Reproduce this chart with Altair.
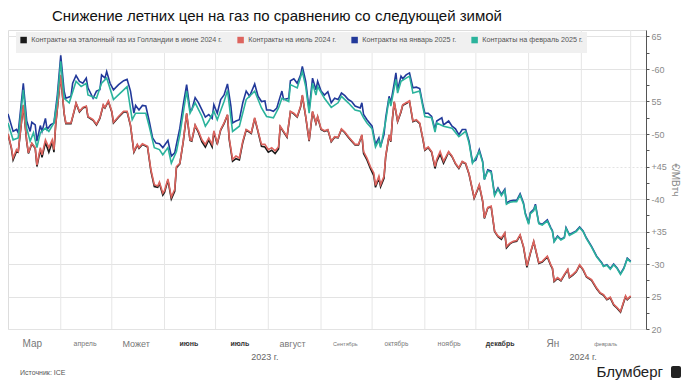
import altair as alt
import pandas as pd

TITLE = "Снижение летних цен на газ по сравнению со следующей зимой"
SERIES = [
    "Контракты на эталонный газ из Голландии в июне 2024 г.",
    "Контракты на июль 2024 г.",
    "Контракты на январь 2025 г.",
    "Контракты на февраль 2025 г.",
]
COLORS = ["#1a1a1a", "#dd645e", "#22399a", "#2bb39c"]
START = pd.Timestamp("2023-03-01")

# (days since 1 Mar 2023, EUR/MWh)
jul = [(0,50.0),(2,47.9),(3,46.3),(5,47.6),(6,47.3),(9,54.5),(11,48.9),(12,47.1),(14,48.6),(16,47.9),
       (17,45.2),(19,47.9),(20,46.8),(22,49.1),(24,47.9),(26,49.1),(27,47.6),(28,51.4),(31,59.1),(33,53.2),
       (34,51.7),(37,51.7),(39,53.7),(40,54.8),(42,53.5),(44,54.1),(46,54.3),(47,52.7),(50,52.2),(52,51.5),
       (54,52.5),(56,54.5),(57,54.1),(59,55.1),(61,53.5),(62,51.8),(65,52.7),(68,53.5),(70,53.5),(72,51.4),
       (74,47.3),(76,48.4),(77,47.9),(79,48.5),(82,48.1),(84,44.5),(86,42.2),(88,42.0),(89,42.6),(91,40.9),
       (92,41.3),(94,43.1),(96,40.3),(98,41.5),(99,45.0),(101,45.5),(103,48.9),(105,53.2),(107,49.1),(108,49.0),
       (110,51.4),(112,50.4),(114,49.1),(116,48.4),(118,49.4),(120,48.4),(121,50.5),(123,48.6),(125,50.7),(127,51.7),
       (129,53.0),(130,49.4),(132,46.1),(134,46.6),(136,46.3),(138,48.9),(140,50.7),(143,50.2),(145,52.5),(147,50.4),
       (149,48.4),(151,48.4),(153,47.6),(155,47.9),(157,47.4),(159,48.0),(160,51.2),(162,50.4),(164,49.6),(166,53.5),
       (168,53.2),(170,52.7),(172,54.3),(173,56.0),(175,52.7),(177,49.0),(179,53.5),(181,51.7),(182,52.7),(184,50.8),
       (186,50.5),(188,50.7),(190,48.9),(192,49.6),(194,49.5),(196,50.8),(198,50.3),(200,49.6),(202,49.0),(204,48.4),
       (206,48.4),(208,49.9),(209,47.3),(211,46.3),(213,45.0),(215,44.0),(216,42.1),(218,43.5),(219,42.2),(221,43.5),
       (222,46.6),(224,49.9),(225,48.9),(226,52.5),(227,55.0),(229,52.0),(231,53.5),(232,54.5),(234,54.8),(236,55.1),
       (238,52.0),(240,52.2),(242,51.7),(244,49.1),(245,47.6),(247,48.0),(249,47.3),(251,45.0),(252,46.1),(254,47.3),
       (256,45.8),(259,47.3),(261,46.6),(263,45.5),(265,44.8),(267,45.8),(269,45.5),(271,43.9),(274,40.2),(276,41.5),
       (277,42.2),(279,39.7),(280,37.1),(282,38.7),(284,38.9),(286,35.1),(288,34.3),(290,34.0),(292,34.8),(293,32.7),
       (295,33.2),(297,33.5),(299,33.6),(301,34.5),(303,32.7),(305,29.7),(307,31.7),(309,33.5),(312,30.2),(314,30.4),
       (317,31.2),(319,29.9),(320,29.4),(321,27.4),(323,27.9),(325,27.5),(327,28.4),(329,29.2),(330,28.0),(332,28.4),
       (334,28.9),(336,29.9),(338,29.2),(340,28.1),(343,27.6),(346,26.3),(348,25.6),(350,25.3),(352,24.6),(354,24.9),
       (356,23.8),(358,23.3),(360,22.7),(361,23.5),(363,25.1),(364,24.6),(366,25.1)]

jun = [(0,50.0),(2,47.8),(3,46.0),(5,47.3),(6,47.2),(9,54.4),(11,48.8),(12,47.0),(14,48.5),(16,47.8),
       (17,45.0),(19,47.6),(20,46.4),(22,48.7),(24,47.2),(26,48.8),(27,47.2),(28,51.3),(31,59.0),(33,53.1),
       (34,51.6),(37,51.6),(39,53.6),(40,54.7),(42,53.4),(44,54.0),(46,54.2),(47,52.6),(50,52.1),(52,51.4),
       (54,52.4),(56,54.4),(57,54.0),(59,55.0),(61,53.4),(62,51.7),(65,52.6),(68,53.4),(70,53.4),(72,51.3),
       (74,47.2),(76,48.3),(77,47.8),(79,48.4),(82,48.0),(84,44.3),(86,41.9),(88,41.8),(89,42.4),(91,40.6),
       (92,41.0),(94,42.9),(96,40.0),(98,41.2),(99,44.8),(101,45.4),(103,48.8),(105,53.1),(107,49.0),(108,48.9),
       (110,51.3),(112,50.2),(114,48.8),(116,48.0),(118,49.1),(120,48.0),(121,50.3),(123,48.4),(125,50.6),(127,51.6),
       (129,52.9),(130,49.2),(132,45.8),(134,46.2),(136,46.0),(138,48.7),(140,50.6),(143,50.1),(145,52.4),(147,50.3),
       (149,48.1),(151,48.0),(153,47.2),(155,47.5),(157,47.0),(159,47.7),(160,51.1),(162,50.3),(164,49.5),(166,53.4),
       (168,53.1),(170,52.6),(172,54.2),(173,55.9),(175,52.6),(177,48.9),(179,53.4),(181,51.6),(182,52.6),(184,50.7),
       (186,50.4),(188,50.6),(190,48.8),(192,49.5),(194,49.4),(196,50.7),(198,50.2),(200,49.5),(202,48.9),(204,48.3),
       (206,48.3),(208,49.8),(209,47.0),(211,46.0),(213,44.7),(215,43.6),(216,41.8),(218,43.2),(219,41.9),(221,43.2),
       (222,46.5),(224,49.8),(225,48.8),(226,52.4),(227,54.9),(229,51.9),(231,53.4),(232,54.4),(234,54.7),(236,55.0),
       (238,51.9),(240,52.1),(242,51.6),(244,49.0),(245,47.5),(247,47.9),(249,47.2),(251,44.7),(252,45.8),(254,46.9),
       (256,45.5),(259,47.2),(261,46.5),(263,45.4),(265,44.7),(267,45.7),(269,45.4),(271,43.8),(274,40.1),(276,41.4),
       (277,42.1),(279,39.6),(280,37.0),(282,38.6),(284,38.8),(286,35.0),(288,34.2),(290,33.8),(292,34.7),(293,32.5),
       (295,33.1),(297,33.4),(299,33.5),(301,34.4),(303,32.6),(305,29.5),(307,31.6),(309,33.4),(312,30.1),(314,30.3),
       (317,31.1),(319,29.8),(320,29.3),(321,27.3),(323,27.8),(325,27.4),(327,28.3),(329,29.1),(330,27.9),(332,28.3),
       (334,28.8),(336,29.8),(338,29.1),(340,28.0),(343,27.5),(346,26.2),(348,25.5),(350,25.2),(352,24.5),(354,24.8),
       (356,23.7),(358,23.2),(360,22.6),(361,23.4),(363,25.0),(364,24.5),(366,25.0)]

jan = [(0,53.1),(3,50.4),(5,50.7),(6,50.2),(9,57.8),(11,52.0),(13,50.4),(14,51.8),(16,51.4),(17,48.9),
       (19,51.3),(20,50.4),(22,52.4),(23,50.7),(25,51.4),(27,51.7),(29,56.0),(31,62.1),(33,56.6),(34,55.5),
       (37,55.8),(38,57.8),(40,59.0),(42,58.1),(44,57.8),(46,58.6),(47,57.1),(50,55.5),(52,56.6),(54,56.8),
       (55,59.1),(57,58.6),(58,59.6),(60,57.8),(62,56.8),(65,57.6),(68,58.2),(70,58.4),(72,56.6),(74,53.2),
       (75,54.4),(77,53.7),(79,54.4),(81,54.3),(83,52.0),(85,49.4),(87,48.6),(89,48.5),(91,47.9),(94,49.0),
       (96,46.6),(98,47.1),(99,48.4),(101,50.9),(103,54.5),(105,57.6),(107,53.7),(108,53.7),(110,55.6),(112,54.8),
       (114,53.7),(116,52.6),(118,53.0),(120,52.4),(121,54.5),(123,53.2),(125,55.3),(127,56.0),(129,57.7),(131,54.3),
       (132,51.7),(134,52.0),(136,52.2),(138,54.8),(140,56.6),(142,55.8),(145,57.7),(147,55.8),(149,55.0),(151,55.1),
       (152,53.7),(154,53.7),(156,53.5),(158,54.0),(159,54.9),(161,56.6),(162,55.3),(165,55.5),(166,58.2),(168,58.5),
       (170,57.8),(172,59.1),(173,60.4),(175,58.1),(177,53.7),(179,58.6),(181,56.8),(182,58.1),(184,56.6),(186,56.0),
       (188,56.5),(190,54.8),(192,55.5),(194,55.3),(196,56.3),(198,55.9),(200,55.3),(202,55.0),(204,54.3),(207,54.0),
       (208,54.8),(209,53.0),(211,52.2),(214,51.2),(216,48.4),(218,49.4),(219,48.1),(221,49.9),(222,52.5),(224,55.8),
       (225,54.8),(227,57.8),(228,59.4),(229,56.8),(231,58.9),(232,58.5),(234,59.1),(236,59.4),(238,57.1),(240,57.2),
       (242,57.0),(244,54.3),(245,53.2),(247,53.2),(249,52.7),(251,50.7),(252,52.0),(255,52.5),(256,51.4),(259,52.0),
       (261,51.2),(263,50.8),(265,49.9),(267,50.7),(269,50.7),(271,48.9),(273,45.7),(275,46.0),(277,47.6),(279,45.8),
       (280,43.0),(282,44.5),(284,44.3),(286,40.7),(288,41.7),(290,40.7),(292,41.5),(293,39.4),(295,39.7),(297,39.8),
       (299,39.8),(301,40.8),(303,39.4),(304,37.9),(306,36.3),(307,37.9),(309,38.4),(310,39.2),(312,36.3),(314,36.1),
       (317,36.8),(319,35.6),(320,35.1),(321,33.5),(323,34.3),(325,33.8),(327,34.1),(328,35.6),(330,34.5),(332,34.8),
       (334,35.1),(336,35.7),(338,35.1),(340,34.0),(343,32.7),(346,31.2),(349,30.2),(350,29.7),(352,29.9),(354,29.3),
       (356,30.0),(358,29.4),(360,28.5),(362,29.4),(364,30.9),(366,30.4)]

feb = [(0,51.7),(3,49.1),(6,49.4),(9,56.8),(11,50.9),(13,48.9),(15,50.2),(17,47.9),(19,50.2),(22,50.9),
       (24,50.4),(27,51.7),(29,55.2),(31,61.2),(33,55.5),(36,54.8),(40,58.1),(43,57.3),(46,57.8),(47,56.0),
       (52,55.5),(55,57.8),(58,58.6),(62,55.3),(68,56.8),(70,57.3),(73,52.2),(75,53.2),(81,53.2),(83,51.2),
       (86,47.9),(89,47.6),(91,46.8),(94,47.9),(96,45.5),(99,47.3),(101,49.9),(105,56.6),(107,53.2),(110,54.8),
       (114,52.7),(116,51.2),(118,52.0),(121,53.5),(123,52.2),(127,55.0),(129,56.7),(132,50.4),(136,51.2),(140,55.3),
       (145,56.6),(149,54.0),(152,52.7),(156,52.5),(159,54.0),(161,55.5),(165,55.0),(166,57.6),(170,57.1),(173,59.6),
       (175,57.3),(177,53.2),(179,57.8),(181,56.0),(182,57.3),(186,55.5),(190,54.1),(194,54.8),(196,55.8),(200,54.8),
       (204,53.7),(207,53.5),(209,52.5),(211,51.7),(214,50.8),(216,48.0),(218,49.0),(219,47.9),(222,52.0),(224,55.5),
       (225,54.3),(228,58.4),(229,56.3),(231,58.1),(234,58.6),(236,58.9),(238,56.3),(242,56.6),(244,54.0),(245,52.7),
       (249,52.5),(251,50.3),(252,51.7),(256,51.2),(261,50.9),(265,49.6),(269,50.4),(271,48.6),(273,45.5),(277,47.3),
       (279,45.6),(280,43.0),(282,44.3),(284,44.1),(286,40.5),(288,41.5),(290,40.5),(292,41.3),(293,39.2),(295,39.5),
       (297,39.6),(299,39.6),(301,40.6),(303,39.2),(304,37.7),(306,36.1),(307,37.7),(309,38.2),(310,39.0),(312,36.2),
       (314,36.0),(317,36.6),(319,35.5),(320,35.0),(321,33.4),(323,34.2),(325,33.7),(327,34.0),(328,35.5),(330,34.4),
       (332,34.7),(334,35.0),(336,35.6),(338,35.0),(340,33.9),(343,32.6),(346,31.1),(349,30.1),(350,29.6),(352,29.8),
       (354,29.2),(356,29.9),(358,29.3),(360,28.4),(362,29.3),(364,30.8),(366,30.3)]

# month names indexed by JS month number (0 = January)
MONTH_LABELS = ["Ян", "февраль", "Мар", "апрель", "Может", "июнь", "июль", "август",
                "Сентябрь", "октябрь", "ноябрь", "декабрь"]
TICK_MONTHS = [(2023, m) for m in range(3, 13)] + [(2024, 1), (2024, 2)]
GRID_DATES = ["2023-04-01", "2023-05-01", "2023-06-01", "2023-07-01", "2023-08-01", "2023-09-01",
              "2023-10-01", "2023-11-01", "2023-12-01", "2024-01-01", "2024-02-01", "2024-03-01"]
Y_TICKS = [20 + 2.5 * i for i in range(19)]
Y_LABELS = {20: "20", 25: "25", 30: "-30", 35: "+35", 40: "-40", 45: "+45",
            50: "-50", 55: "55", 60: "-60", 65: "65"}
YEAR_LABELS = ["2023 г.", "2024 г."]
YEAR_DATES = ["2023-07-30", "2024-02-02"]
SOURCE = "Источник: ICE"
BRAND = "Блумберг"
AXIS_TITLE = "€/MBтч"

FONT = "Liberation Sans"
W, H = 638, 299

rows = []
for name, pts in zip(SERIES, [jun, jul, jan, feb]):
    for d, v in pts:
        rows.append({"series": name,
                     "date": (START + pd.Timedelta(days=d)).strftime("%Y-%m-%dT00:00:00"),
                     "value": v})
df = pd.DataFrame(rows)

grid_df = pd.DataFrame({"date": [d + "T00:00:00" for d in GRID_DATES]})
year_df = pd.DataFrame({"date": [d + "T00:00:00" for d in YEAR_DATES], "label": YEAR_LABELS})

label_expr_x = "[" + ",".join("'" + s + "'" for s in MONTH_LABELS) + "][month(datum.value)]"
label_expr_y = " : ".join(f"datum.value == {k} ? '{v}'" for k, v in Y_LABELS.items()) + " : ''"

x_axis = alt.Axis(
    values=[alt.DateTime(year=y, month=m, date=15) for y, m in TICK_MONTHS],
    labelExpr=label_expr_x, ticks=False, tickSize=0, domain=False, grid=False,
    labelBaseline="middle", labelPadding=14, labelOverlap=False, labelFlush=False,
    labelFont=FONT,
    labelFontSize={"condition": [
        {"test": "month(datum.value) == 2 || month(datum.value) == 0", "value": 10},
        {"test": "month(datum.value) == 4 || month(datum.value) == 7", "value": 9},
        {"test": "month(datum.value) == 8 || month(datum.value) == 1", "value": 5.5},
        {"test": "month(datum.value) == 9", "value": 6.5}], "value": 7},
    labelFontWeight={"condition": {"test": "month(datum.value) == 5 || month(datum.value) == 6 || month(datum.value) == 11", "value": "bold"}, "value": "normal"},
    labelColor={"condition": {"test": "month(datum.value) == 5 || month(datum.value) == 6 || month(datum.value) == 11", "value": "#333333"}, "value": "#777777"},
)

x_enc = alt.X("date:T", title=None, axis=x_axis,
              scale=alt.Scale(domain=[alt.DateTime(year=2023, month=3, date=1),
                                      alt.DateTime(year=2024, month=3, date=10)]))

y_axis = alt.Axis(
    orient="right", values=Y_TICKS, labelExpr=label_expr_y, grid=True, gridColor="#e3e3e3",
    gridOpacity={"condition": {"test": "datum.value % 5 != 0", "value": 0}, "value": 1},
    gridDash={"condition": {"test": "datum.value == 45", "value": [2, 2]}, "value": []},
    domainColor="#555555", tickColor="#555555", tickSize=3, labelColor="#8a8a8a",
    labelFontSize=9, labelPadding=2, labelFont=FONT,
    titleColor="#8a8a8a", titleFontSize=10, titleFontWeight="normal", titleFont=FONT, titlePadding=3,
)

legend = alt.Legend(
    title=None, orient="none", legendX=8, legendY=2, direction="horizontal",
    symbolType="square", symbolSize=9, symbolStrokeWidth=3.5, labelFontSize=7.2,
    labelColor="#555555", labelFont=FONT, labelLimit=400, columnPadding=9,
    fillColor="#f0f0f0", padding=4, labelOffset=4,
)

rules = alt.Chart(grid_df).mark_rule(color="#e6e6e6", strokeWidth=1).encode(x=x_enc)

lines = alt.Chart(df).mark_line(strokeWidth=1.6).encode(
    x=x_enc,
    y=alt.Y("value:Q", title=AXIS_TITLE, axis=y_axis,
            scale=alt.Scale(domain=[20, 66], nice=False, zero=False)),
    color=alt.Color("series:N", scale=alt.Scale(domain=SERIES, range=COLORS), legend=legend),
)

years = alt.Chart(year_df).mark_text(fontSize=9, color="#666666", font=FONT).encode(
    x=x_enc, y=alt.value(327), text="label:N")

title = alt.Chart(pd.DataFrame({"t": [TITLE]})).mark_text(
    align="left", baseline="alphabetic", fontSize=15, color="#111111", font=FONT).encode(
    x=alt.value(44), y=alt.value(-9), text="t:N")

source = alt.Chart(pd.DataFrame({"t": [SOURCE]})).mark_text(
    align="left", fontSize=7, color="#555555", font=FONT).encode(
    x=alt.value(12), y=alt.value(343), text="t:N")

brand = alt.Chart(pd.DataFrame({"t": [BRAND]})).mark_text(
    align="right", fontSize=15, color="#222222", font=FONT).encode(
    x=alt.value(655), y=alt.value(342), text="t:N")

icon = alt.Chart(pd.DataFrame({"t": [BRAND]})).mark_rect(color="#222222", cornerRadius=2).encode(
    x=alt.value(663), x2=alt.value(673), y=alt.value(336), y2=alt.value(348))

chart = alt.layer(rules, lines, years, title, source, brand, icon).properties(
    width=W, height=H,
    padding={"left": 0, "top": 22, "right": 37, "bottom": 56},
    autosize=alt.AutoSizeParams(type="none"),
).configure_view(stroke=None).configure(font=FONT, background="white")

chart.save("out.html", embed_options={"renderer": "svg", "actions": False})
